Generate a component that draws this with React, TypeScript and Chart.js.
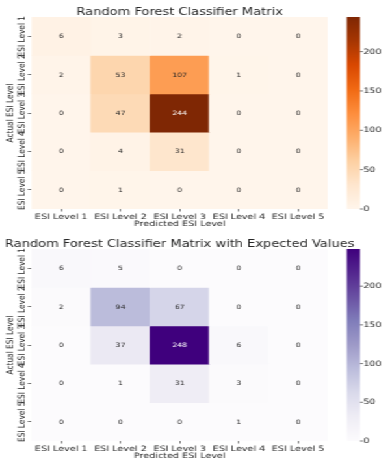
import React, { useEffect, useRef } from 'react';
import { Chart, registerables } from 'chart.js';

Chart.register(...registerables);

// ---- data ----
const predictedLabels = ['ESI Level 1', 'ESI Level 2', 'ESI Level 3', 'ESI Level 4', 'ESI Level 5'];
const actualLabels = ['ESI Level 1', 'ESI Level 2', 'ESI Level 3', 'ESI Level 4', 'ESI Level 5'];
const colorbarTicks = [0, 50, 100, 150, 200];

// rows = actual level, columns = predicted level
const classifierMatrix = [
  [6, 3, 2, 0, 0],
  [2, 53, 107, 1, 0],
  [0, 47, 244, 0, 0],
  [0, 4, 31, 0, 0],
  [0, 1, 0, 0, 0],
];
const expectedMatrix = [
  [6, 5, 0, 0, 0],
  [2, 94, 67, 0, 0],
  [0, 37, 248, 6, 0],
  [0, 1, 31, 3, 0],
  [0, 0, 0, 1, 0],
];

const classifierTitle = 'Random Forest Classifier Matrix';
const expectedTitle = 'Random Forest Classifier Matrix with Expected Values';
const xAxisTitle = 'Predicted ESI Level';
const yAxisTitle = 'Actual ESI Level';

// matplotlib "Oranges" and "Purples" colour ramps
const orangesRamp = ['#fff5eb', '#fee6ce', '#fdd0a2', '#fdae6b', '#fd8d3c', '#f16913', '#d94801', '#a63603', '#7f2704'];
const purplesRamp = ['#fcfbfd', '#efedf5', '#dadaeb', '#bcbddc', '#9e9ac8', '#807dba', '#6a51a3', '#54278f', '#3f007d'];

// ---- layout (logical px; the figure is widened horizontally by SX) ----
const W = 300;
const H = 232;
const SX = 1.3;
const PLOT_LEFT = 24.3;
const PLOT_RIGHT = 252.1;
const PLOT_TOP = 17;
const PLOT_BOTTOM = 209;
const FONT = '"DejaVu Sans", sans-serif';
const INK = '#262626';
const TICK_INK = '#555555';
const LABEL_SIZE = 7.4;

const hexToRgb = (h: string) => [1, 3, 5].map((i) => parseInt(h.slice(i, i + 2), 16));

function sampleRamp(ramp: string[], t: number): number[] {
  const u = Math.min(1, Math.max(0, t)) * (ramp.length - 1);
  const i = Math.min(ramp.length - 2, Math.floor(u));
  const f = u - i;
  const a = hexToRgb(ramp[i]);
  const b = hexToRgb(ramp[i + 1]);
  return a.map((v, k) => Math.round(v + (b[k] - v) * f));
}

const rgbStr = (c: number[]) => `rgb(${c[0]},${c[1]},${c[2]})`;

function luminance(c: number[]) {
  const lin = c.map((v) => {
    const s = v / 255;
    return s <= 0.03928 ? s / 12.92 : Math.pow((s + 0.055) / 1.055, 2.4);
  });
  return 0.2126 * lin[0] + 0.7152 * lin[1] + 0.0722 * lin[2];
}

function measureWidest(labels: string[], size: number) {
  const ctx = document.createElement('canvas').getContext('2d')!;
  ctx.font = `normal ${size}px ${FONT}`;
  return Math.max(...labels.map((l) => ctx.measureText(l).width));
}

// axes keep a fixed box so the heatmap lands on the same area in both panels
const fixBox = (size: { width?: number; height?: number }) => (s: any) => {
  if (size.width !== undefined) s.width = size.width;
  if (size.height !== undefined) s.height = size.height;
  s.paddingTop = 0;
  s.paddingBottom = 0;
  s.paddingLeft = 0;
  s.paddingRight = 0;
};

function makeConfig(title: string, matrix: number[][], ramp: string[]) {
  const vmax = Math.max(...matrix.flat());
  const cellRgb = (v: number) => sampleRamp(ramp, v / vmax);
  const widestY = measureWidest(actualLabels, LABEL_SIZE);
  const yTickLen = 3;
  const yLabelCenter = 17.3;
  const yPad = PLOT_LEFT - yTickLen - yLabelCenter - widestY / 2;

  const datasets = matrix.map((row, r) => ({
    label: actualLabels[r],
    data: row.map(() => [r, r + 1]),
    backgroundColor: row.map((v) => rgbStr(cellRgb(v))),
    borderWidth: 0,
    grouped: false,
    barPercentage: 1,
    categoryPercentage: 1,
  }));

  const decor = {
    id: 'heatmapDecor',
    afterDatasetsDraw(chart: any) {
      const { ctx, scales } = chart;
      const x = scales.x;
      const y = scales.y;
      ctx.save();
      ctx.font = `normal 6px ${FONT}`;
      ctx.textAlign = 'center';
      ctx.textBaseline = 'middle';
      matrix.forEach((row, r) =>
        row.forEach((v, c) => {
          ctx.fillStyle = luminance(cellRgb(v)) > 0.408 ? INK : '#ffffff';
          ctx.fillText(String(v), x.getPixelForValue(c), y.getPixelForValue(r + 0.5) + 0.5);
        })
      );
      ctx.restore();
    },
    afterDraw(chart: any) {
      const { ctx, chartArea, scales } = chart;
      const cb = scales.cb;
      ctx.save();
      // title centred over the heatmap
      ctx.font = `normal 10px ${FONT}`;
      ctx.fillStyle = INK;
      ctx.textAlign = 'center';
      ctx.textBaseline = 'middle';
      ctx.fillText(title, (chartArea.left + chartArea.right) / 2, 12);

      // colour bar
      const x0 = chartArea.right + 14.6;
      const bw = 10.2;
      const yBottom = cb.getPixelForValue(0);
      const yTop = cb.getPixelForValue(vmax);
      const grad = ctx.createLinearGradient(0, yBottom, 0, yTop);
      ramp.forEach((c, i) => grad.addColorStop(i / (ramp.length - 1), c));
      ctx.fillStyle = grad;
      ctx.fillRect(x0, yTop, bw, yBottom - yTop);
      ctx.strokeStyle = TICK_INK;
      ctx.lineWidth = 0.8;
      colorbarTicks.forEach((t) => {
        const py = cb.getPixelForValue(t);
        ctx.beginPath();
        ctx.moveTo(x0 + bw, py);
        ctx.lineTo(x0 + bw + 2.4, py);
        ctx.stroke();
      });
      ctx.restore();
    },
  };

  const labelFont = { family: FONT, size: LABEL_SIZE };

  return {
    type: 'bar' as const,
    data: { labels: predictedLabels, datasets },
    options: {
      animation: false,
      responsive: false,
      devicePixelRatio: 1,
      layout: { padding: { top: PLOT_TOP, left: 0, right: 0, bottom: 0 } },
      plugins: { legend: { display: false }, tooltip: { enabled: false }, title: { display: false } },
      events: [],
      scales: {
        x: {
          type: 'category',
          offset: true,
          border: { display: false },
          grid: {
            display: true,
            drawOnChartArea: false,
            drawTicks: true,
            tickLength: 2.5,
            offset: false,
            color: TICK_INK,
            lineWidth: 0.8,
          },
          ticks: { font: labelFont, color: INK, padding: 1, maxRotation: 0, minRotation: 0, autoSkip: false },
          title: { display: true, text: xAxisTitle, font: labelFont, color: INK, padding: { top: 0, bottom: 3.3 } },
          afterFit: fixBox({ height: H - PLOT_BOTTOM }),
        },
        y: {
          type: 'linear',
          min: 0,
          max: actualLabels.length,
          reverse: true,
          border: { display: false },
          grid: {
            display: true,
            drawOnChartArea: false,
            drawTicks: true,
            tickLength: yTickLen,
            color: TICK_INK,
            lineWidth: 0.8,
          },
          afterBuildTicks: (s: any) => {
            s.ticks = actualLabels.map((_, i) => ({ value: i + 0.5 }));
          },
          ticks: {
            font: labelFont,
            color: INK,
            autoSkip: false,
            minRotation: 90,
            maxRotation: 90,
            crossAlign: 'center',
            padding: yPad,
            callback: (_v: any, i: number) => actualLabels[i],
          },
          title: { display: true, text: yAxisTitle, font: labelFont, color: INK, padding: { top: 3.3, bottom: 0 } },
          afterFit: fixBox({ width: PLOT_LEFT }),
        },
        cb: {
          type: 'linear',
          axis: 'y',
          position: 'right',
          min: 0,
          max: vmax,
          border: { display: false },
          grid: { display: false, drawTicks: false },
          afterBuildTicks: (s: any) => {
            s.ticks = colorbarTicks.map((v) => ({ value: v }));
          },
          ticks: { font: labelFont, color: INK, padding: 27.3, autoSkip: false, callback: (v: any) => String(v) },
          afterFit: fixBox({ width: W - PLOT_RIGHT }),
        },
      },
    },
    plugins: [decor],
  };
}

function Heatmap({ title, matrix, ramp }: { title: string; matrix: number[][]; ramp: string[] }) {
  const ref = useRef<HTMLCanvasElement>(null);
  useEffect(() => {
    const chart = new Chart(ref.current!, makeConfig(title, matrix, ramp) as any);
    return () => chart.destroy();
  }, [title, matrix, ramp]);
  return <canvas ref={ref} width={W} height={H} style={{ display: 'block', width: W, height: H }} />;
}

export default function App() {
  return (
    <div style={{ position: 'fixed', left: 0, top: 0, width: 390, height: 464, background: '#ffffff', overflow: 'hidden' }}>
      <div style={{ width: W, height: 2 * H, transform: `scaleX(${SX})`, transformOrigin: '0 0' }}>
        <Heatmap title={classifierTitle} matrix={classifierMatrix} ramp={orangesRamp} />
        <Heatmap title={expectedTitle} matrix={expectedMatrix} ramp={purplesRamp} />
      </div>
    </div>
  );
}
